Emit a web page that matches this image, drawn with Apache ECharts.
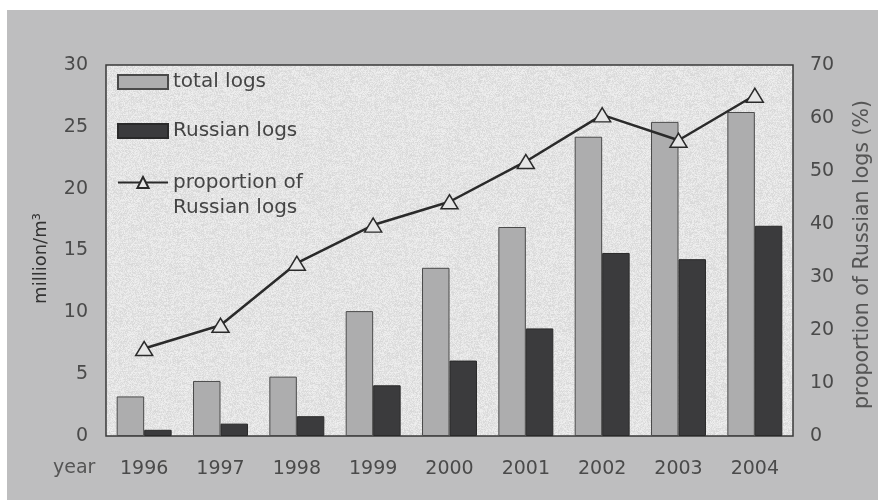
<!DOCTYPE html>
<html>
<head>
<meta charset="utf-8">
<script src="https://cdn.jsdelivr.net/npm/echarts@6/dist/echarts.min.js"></script>
<style>
html,body{margin:0;padding:0;background:#fff;}
#c{width:878px;height:500px;}
</style>
</head>
<body>
<div id="c"></div>
<script>
var years = ['1996','1997','1998','1999','2000','2001','2002','2003','2004'];
var totalLogs = [3.2, 4.45, 4.8, 10.1, 13.6, 16.9, 24.2, 25.4, 26.2];
var russianLogs = [0.5, 1.0, 1.6, 4.1, 6.1, 8.7, 14.8, 14.3, 17.0];
var proportion = [16.5, 20.9, 32.6, 39.8, 44.2, 51.8, 60.6, 55.8, 64.3];
var leftTicks = [0, 5, 10, 15, 20, 25, 30];
var rightTicks = [0, 10, 20, 30, 40, 50, 60, 70];

// speckled texture for the plot background (deterministic hash noise)
function makeTexture() {
  var cv = document.createElement('canvas');
  cv.width = 128; cv.height = 128;
  var ctx = cv.getContext('2d');
  var img = ctx.createImageData(128, 128);
  var s = 12345;
  for (var i = 0; i < 128 * 128; i++) {
    s = (s * 1103515245 + 12345) & 0x7fffffff;
    var v = 228 + ((s >> 8) % 24) - 12;
    img.data[i*4] = v; img.data[i*4+1] = v; img.data[i*4+2] = v; img.data[i*4+3] = 255;
  }
  ctx.putImageData(img, 0, 0);
  return cv;
}

var FONT = '"DejaVu Sans", sans-serif';
var TXT = '#4a4a4a';
var chart = echarts.init(document.getElementById('c'), null, {renderer: 'canvas'});
chart.setOption({
  backgroundColor: '#ffffff',
  animation: false,
  graphic: [
    {type: 'rect', left: 7, top: 10, z: -10, shape: {width: 871, height: 490}, style: {fill: '#bebebf'}, silent: true},
    {type: 'text', left: 53, top: 459, z: 10, style: {text: 'year', font: '19px ' + FONT, fill: '#555'}}
  ],
  grid: {
    left: 106, right: 85, top: 65, bottom: 64,
    outerBoundsMode: 'none',
    containLabel: false,
    show: true,
    backgroundColor: {image: makeTexture(), repeat: 'repeat'},
    borderColor: '#3a3a3a', borderWidth: 1.5
  },
  legend: [
    {
      orient: 'vertical', left: 117, top: 72, padding: 0,
      itemWidth: 50, itemHeight: 14, itemGap: 29, icon: 'rect',
      textStyle: {fontFamily: FONT, fontSize: 20, lineHeight: 20, color: '#444'},
      data: ['total logs', 'Russian logs']
    },
    {
      orient: 'vertical', left: 117, top: 145, padding: 0,
      itemWidth: 50, itemHeight: 14,
      textStyle: {fontFamily: FONT, fontSize: 20, color: '#444', lineHeight: 25},
      formatter: function () { return '\nproportion of\nRussian logs'; },
      data: ['proportion of Russian logs']
    }
  ],
  xAxis: {
    type: 'category', data: years,
    axisLine: {show: false}, axisTick: {show: false},
    axisLabel: {fontFamily: FONT, fontSize: 19, color: TXT, margin: 24}
  },
  yAxis: [
    {
      type: 'value', min: 0, max: 30, interval: 5,
      name: 'million/m³', nameLocation: 'middle', nameGap: 56, nameRotate: 90,
      nameTextStyle: {fontFamily: FONT, fontSize: 18, color: '#333', padding: [0, 16, 0, 0]},
      axisLine: {show: false}, axisTick: {show: false}, splitLine: {show: false},
      axisLabel: {fontFamily: FONT, fontSize: 19, color: TXT, margin: 18,
        formatter: function (v) { return leftTicks.indexOf(v) >= 0 ? String(v) : ''; }}
    },
    {
      type: 'value', min: 0, max: 70, interval: 10, position: 'right',
      name: 'proportion of Russian logs (%)', nameLocation: 'middle', nameGap: 59, nameRotate: 90,
      nameTextStyle: {fontFamily: FONT, fontSize: 20.5, color: '#555', padding: [0, 8, 0, 0]},
      axisLine: {show: false}, axisTick: {show: false}, splitLine: {show: false},
      axisLabel: {fontFamily: FONT, fontSize: 19, color: TXT, margin: 17,
        formatter: function (v) { return rightTicks.indexOf(v) >= 0 ? String(v) : ''; }}
    }
  ],
  series: [
    {
      name: 'total logs', type: 'bar', data: totalLogs, yAxisIndex: 0,
      barGap: '0%', barCategoryGap: '28%',
      itemStyle: {color: '#adadae', borderColor: '#4a4a4a', borderWidth: 1}
    },
    {
      name: 'Russian logs', type: 'bar', data: russianLogs, yAxisIndex: 0,
      itemStyle: {color: '#3b3b3d', borderColor: '#2a2a2a', borderWidth: 1}
    },
    {
      name: 'proportion of Russian logs', type: 'line', data: proportion, yAxisIndex: 1,
      symbol: 'triangle', symbolSize: [17, 14], z: 5,
      lineStyle: {color: '#2a2a2a', width: 2.5},
      itemStyle: {color: '#e6e6e6', borderColor: '#2a2a2a', borderWidth: 1.5}
    }
  ]
});
</script>
</body>
</html>
